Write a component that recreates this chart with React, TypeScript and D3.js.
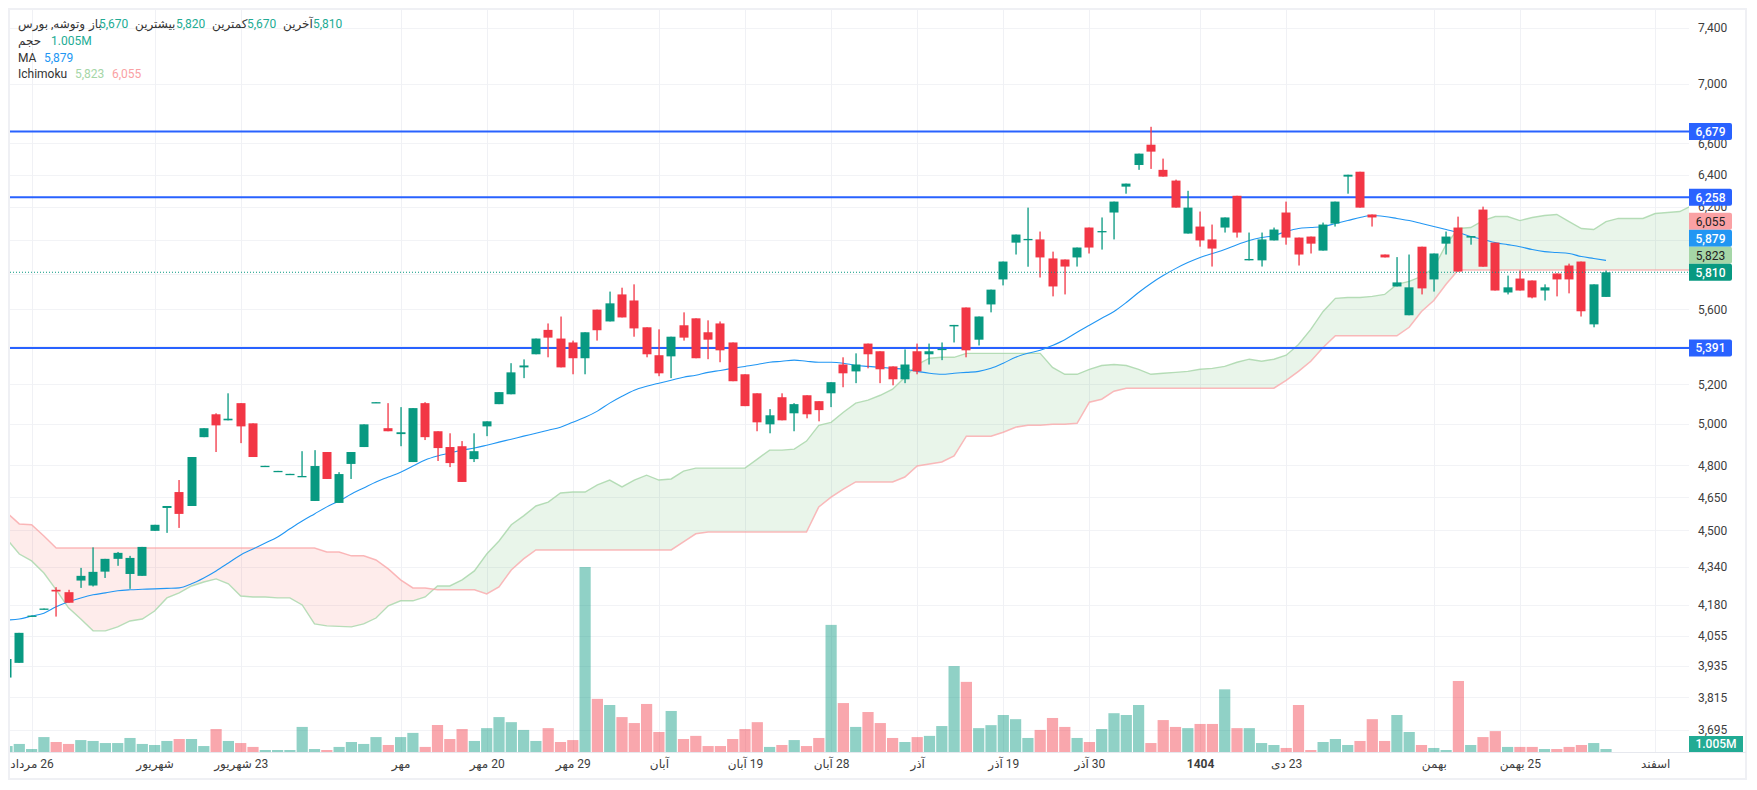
import { useEffect, useRef } from 'react'
import { select, scaleLinear, scaleLog, line, area, axisRight, axisBottom, format, curveMonotoneX } from 'd3'

const opens = [3890,3947,4132,4161,4243,4233,4282,4261,4320,4375,4310,4302,4498,4601,4674,4610,4935,5048,5018,5104,5003,4793,4769,4755,4745,4633,4863,4624,4806,4887,5105,4979,4950,4815,5104,4964,4887,4891,4829,4988,5099,5149,5288,5357,5488,5441,5420,5336,5599,5534,5684,5650,5502,5352,5346,5513,5551,5475,5523,5420,5252,5154,4998,5134,5053,5144,5114,5154,5303,5267,5414,5373,5293,5226,5373,5357,5380,5507,5611,5435,5628,5769,5983,5999,6002,5890,5884,5896,6073,6046,6164,6324,6461,6592,6430,6362,6037,6079,6002,6073,6267,5879,5879,5996,6164,6013,6019,5936,6097,6387,6418,6152,5913,5729,5568,5959,5769,5977,6073,6013,6182,5983,5695,5774,5763,5706,5803,5849,5872,5518,5670]
const highs = [3962,4066,4136,4165,4254,4243,4336,4425,4375,4405,4388,4427,4525,4610,4730,4839,4979,5053,5154,5104,5003,4797,4773,4759,4867,4872,4863,4767,4863,4998,5109,5104,5084,5079,5109,4964,4954,4916,4954,5013,5160,5310,5330,5441,5523,5561,5430,5475,5599,5700,5722,5741,5502,5491,5451,5584,5551,5540,5534,5420,5252,5154,5074,5154,5104,5144,5114,5211,5341,5362,5414,5373,5293,5383,5414,5414,5420,5515,5611,5561,5711,5872,6031,6194,6049,5930,5884,5954,6073,6134,6231,6343,6534,6710,6502,6368,6298,6170,6091,6134,6267,6043,6043,6073,6231,6013,6019,6103,6231,6399,6418,6152,5913,5898,5913,5959,5919,6049,6139,6022,6200,5983,5791,5820,5763,5741,5803,5860,5872,5741,5820]
const lows = [3890,3947,4132,4161,4132,4189,4251,4257,4293,4345,4247,4302,4498,4489,4511,4610,4935,4863,5018,4906,4839,4793,4769,4755,4745,4633,4735,4624,4735,4887,5105,4964,4891,4815,4921,4820,4791,4721,4815,4940,5099,5149,5232,5357,5341,5288,5252,5252,5430,5534,5556,5451,5341,5242,5232,5430,5336,5331,5315,5216,5089,4964,4954,5018,4964,5028,5013,5084,5185,5206,5283,5206,5195,5206,5252,5303,5326,5420,5341,5404,5584,5735,5913,5842,5780,5673,5684,5843,5919,5942,6002,6280,6430,6436,6387,6194,6037,5959,5843,6043,6013,5879,5843,5996,5971,5849,5919,5936,6079,6280,6194,6079,5896,5729,5568,5684,5700,5913,5814,5971,5842,5706,5684,5706,5662,5650,5673,5690,5561,5502,5670]
const closes = [3962,4066,4136,4165,4236,4189,4302,4319,4375,4401,4379,4427,4525,4610,4574,4839,4979,4993,5026,4988,4839,4797,4773,4759,4749,4796,4735,4758,4863,4998,5109,4964,4959,5079,4935,4882,4810,4721,4867,5013,5160,5262,5298,5441,5446,5288,5336,5475,5486,5634,5556,5496,5357,5257,5451,5446,5336,5435,5378,5216,5089,5008,5043,5018,5099,5048,5069,5211,5257,5303,5357,5278,5226,5303,5267,5373,5386,5515,5378,5561,5711,5872,6031,6005,5896,5729,5843,5954,5954,6052,6231,6343,6534,6547,6387,6194,6194,5996,5948,6134,6043,5887,6002,6061,6013,5913,5977,6091,6231,6399,6194,6134,5896,5752,5724,5718,5919,6019,5814,6022,5842,5706,5724,5706,5667,5724,5769,5769,5590,5741,5810]

// volume, millions
const volumes = [2,2.7,1,5,3.35,2.7,4,3.7,3,3,4.7,2.7,2.35,3.7,4.35,4.35,2,7.7,3.7,3,1.7,0.67,0.67,0.67,8.4,1,0.67,1.7,3.35,2.7,5,2.35,5,6.4,1.7,9.05,4.35,7.7,3.7,8,11.7,10,7.4,3.7,8,3.35,4,62,17.8,15.75,11.7,9.7,16.1,6.7,13.75,4.35,5.4,2,2,4.35,7.7,10,1.7,2.35,4,2,4.7,42.6,16.4,8.4,13.4,9.7,4.7,3.35,5,5.4,8.7,28.8,23.5,8,9,12.4,11,4.7,7.4,11.4,8.4,4.7,3.35,7.7,13,12.4,15.75,3,10.7,8.4,8,9.4,9.4,21,8,8,3,2.35,1.35,15.75,0.67,3.35,4.35,2.35,3.7,11,3.7,12.4,6.7,2.35,1.35,0.67,23.8,2.35,5,7,1.7,1.7,1.7,1,1,1.7,2.35,3,1.005]

const maValues = [4118,4122,4134,4146,4172,4193,4209,4222,4230,4239,4243,4245,4247,4249,4251,4268,4293,4323,4357,4392,4418,4444,4471,4507,4542,4574,4606,4633,4665,4693,4721,4744,4767,4796,4825,4844,4858,4872,4882,4896,4911,4925,4940,4954,4969,4984,5008,5033,5064,5104,5139,5170,5190,5206,5221,5237,5247,5262,5272,5283,5293,5303,5315,5320,5326,5320,5315,5315,5310,5298,5293,5288,5283,5278,5267,5257,5252,5257,5262,5267,5283,5310,5341,5362,5378,5404,5435,5475,5513,5551,5589,5639,5695,5746,5791,5831,5866,5896,5919,5942,5971,5996,6013,6025,6049,6067,6073,6079,6097,6115,6134,6146,6140,6128,6115,6097,6079,6061,6043,6019,6002,5983,5971,5959,5942,5930,5925,5919,5901,5890,5879]

const spanA = [4461,4396,4366,4314,4243,4168,4122,4074,4074,4090,4114,4122,4155,4209,4230,4259,4276,4289,4268,4217,4213,4213,4209,4209,4180,4102,4094,4092,4090,4102,4126,4176,4197,4197,4213,4259,4259,4285,4323,4396,4453,4525,4565,4610,4628,4670,4674,4674,4707,4730,4698,4730,4753,4730,4735,4772,4786,4786,4786,4786,4786,4829,4872,4872,4877,4916,4993,5008,5058,5104,5119,5144,5175,5237,5303,5336,5341,5341,5362,5362,5362,5362,5362,5362,5362,5288,5252,5252,5278,5298,5303,5298,5278,5252,5257,5262,5267,5278,5283,5293,5315,5331,5320,5331,5352,5409,5491,5589,5662,5667,5667,5673,5684,5741,5758,5786,5836,5971,6067,6073,6115,6140,6140,6115,6134,6146,6152,6109,6067,6061,6109,6128,6128,6128,6158,6164,6170,6207]
const spanB = [4579,4529,4525,4475,4422,4422,4422,4422,4422,4422,4422,4422,4422,4422,4422,4422,4422,4422,4422,4422,4422,4422,4422,4422,4422,4422,4405,4405,4388,4388,4370,4332,4285,4251,4251,4243,4243,4243,4243,4226,4255,4327,4375,4414,4414,4414,4414,4414,4414,4414,4414,4414,4414,4414,4414,4449,4485,4493,4493,4493,4493,4493,4493,4493,4493,4493,4606,4651,4688,4721,4721,4721,4721,4744,4796,4806,4815,4844,4940,4940,4940,4959,4984,4993,4993,4998,4998,5003,5109,5124,5165,5180,5180,5180,5180,5180,5180,5180,5180,5180,5180,5180,5180,5180,5221,5267,5320,5393,5456,5456,5456,5456,5456,5456,5502,5589,5650,5741,5825,5823,5823,5823,5823,5823,5823,5823,5823,5823,5823,5823,5823,5823,5823,5823,5823,5823,5823,5823]

const priceTicks = [7400,7000,6600,6400,6200,6000,5800,5600,5400,5200,5000,4800,4650,4500,4340,4180,4055,3935,3815,3695]
// the 6,000 / 5,800 / 5,400 labels sit fully behind the price tags
const priceLabels = [7400,7000,6600,6400,6200,5600,5200,5000,4800,4650,4500,4340,4180,4055,3935,3815,3695]
const levels = [6679,6258,5391]
const lastClose = 5810

const xTickBars = [2,12,19,32,39,46,53,60,67,74,81,88,97,104,116,123,134]
const xTickLabels = ['26 مرداد','شهریور','23 شهریور','مهر','20 مهر','29 مهر','آبان','19 آبان','28 آبان','آذر','19 آذر','30 آذر','1404','23 دی','بهمن','25 بهمن','اسفند']

const tagValues = [6679,6258,6055,5879,5823,5810,5391]
const tagFills = ['#2962ff','#2962ff','#faa1a4','#2196f3','#a5d6a7','#089981','#2962ff']
const tagInks = ['#fff','#fff','#222','#fff','#222','#fff','#fff']

const legendTexts = ['وتوشه, بورس','باز','5,670','بیشترین','5,820','کمترین','5,670','آخرین','5,810','حجم','1.005M','MA','5,879','Ichimoku','5,823','6,055']
const legendX = [18,89,99,135,176,212,247,283,313,18,51,18,44,18,75,112]
const legendRow = [0,0,0,0,0,0,0,0,0,1,1,2,2,3,3,3]
const legendInk = ['#333','#333','#22ab94','#333','#22ab94','#333','#22ab94','#333','#22ab94','#333','#22ab94','#333','#2196f3','#333','#a5d6a7','#faa1a4']

const UP = '#089981'
const DOWN = '#f23645'
const FONT = 'Roboto, "DejaVu Sans", sans-serif'
const LEFT = 10
const RIGHT = 1689
const TOP = 10
const BOTTOM = 752

export default function App() {
  const svgRef = useRef<SVGSVGElement | null>(null)

  useEffect(() => {
    const svg = select(svgRef.current)
    svg.selectAll('*').remove()

    const x = scaleLinear().domain([0, 130]).range([7, 1606])
    const y = scaleLog().domain([3695, 7400]).range([729.5, 27.9])
    const vol = scaleLinear().domain([0, 62]).range([BOTTOM, 567])

    const defs = svg.append('defs')
    defs.append('clipPath').attr('id', 'plot').append('rect')
      .attr('x', LEFT).attr('y', TOP).attr('width', RIGHT - LEFT).attr('height', BOTTOM - TOP)
    const aboveLine = area<number>().x((_, i) => x(i)).y0(TOP).y1((d) => y(d))
    defs.append('clipPath').attr('id', 'above-a').append('path').attr('d', aboveLine(spanA))
    defs.append('clipPath').attr('id', 'above-b').append('path').attr('d', aboveLine(spanB))

    svg.append('rect').attr('x', 9).attr('y', 9).attr('width', 1737).attr('height', 770)
      .attr('fill', '#fff').attr('stroke', '#eff0f4').attr('stroke-width', 2)

    // grid
    svg.append('g').selectAll('line').data(priceTicks).join('line')
      .attr('x1', LEFT).attr('x2', RIGHT)
      .attr('y1', (d) => Math.round(y(d)) + 0.5).attr('y2', (d) => Math.round(y(d)) + 0.5)
      .attr('stroke', '#f2f3f6')
    svg.append('g').selectAll('line').data(xTickBars).join('line')
      .attr('x1', (d) => Math.round(x(d)) + 0.5).attr('x2', (d) => Math.round(x(d)) + 0.5)
      .attr('y1', TOP).attr('y2', BOTTOM)
      .attr('stroke', '#f0f1f5')

    const plot = svg.append('g').attr('clip-path', 'url(#plot)')

    // volume
    plot.append('g').selectAll('rect').data(volumes).join('rect')
      .attr('x', (_, i) => x(i) - 5.6).attr('width', 11.2)
      .attr('y', (d) => vol(d)).attr('height', (d) => BOTTOM - vol(d))
      .attr('fill', (_, i) => (closes[i] >= opens[i] ? UP : DOWN))
      .attr('fill-opacity', (_, i) => (closes[i] >= opens[i] ? 0.45 : 0.44))

    // ichimoku cloud
    const cloud = area<number>().x((_, i) => x(i)).y0((d) => y(d)).y1((_, i) => y(spanB[i]))
    plot.append('path').attr('d', cloud(spanA)).attr('fill', '#4caf50').attr('fill-opacity', 0.12).attr('clip-path', 'url(#above-b)')
    plot.append('path').attr('d', cloud(spanA)).attr('fill', '#f44336').attr('fill-opacity', 0.1).attr('clip-path', 'url(#above-a)')
    const spanLine = line<number>().x((_, i) => x(i)).y((d) => y(d))
    plot.append('path').attr('d', spanLine(spanA)).attr('fill', 'none').attr('stroke', '#a5d6a7').attr('stroke-width', 1.4).attr('stroke-opacity', 0.8)
    plot.append('path').attr('d', spanLine(spanB)).attr('fill', 'none').attr('stroke', '#faa1a4').attr('stroke-width', 1.5).attr('stroke-opacity', 0.75)

    // horizontal levels
    plot.append('g').selectAll('line').data(levels).join('line')
      .attr('x1', LEFT).attr('x2', RIGHT).attr('y1', (d) => y(d)).attr('y2', (d) => y(d))
      .attr('stroke', '#2962ff').attr('stroke-width', 2)

    // moving average
    const maLine = line<number>().x((_, i) => x(i)).y((d) => y(d)).curve(curveMonotoneX)
    plot.append('path').attr('d', maLine(maValues)).attr('fill', 'none').attr('stroke', '#2196f3').attr('stroke-width', 1.1)

    // candles
    const candles = plot.append('g').selectAll('g').data(opens).join('g')
    candles.append('rect')
      .attr('x', (_, i) => Math.round(x(i)) - 0.6).attr('width', 1.3)
      .attr('y', (_, i) => y(highs[i])).attr('height', (_, i) => y(lows[i]) - y(highs[i]))
      .attr('fill', (_, i) => (closes[i] >= opens[i] ? UP : DOWN))
    candles.append('rect')
      .attr('x', (_, i) => Math.round(x(i)) - 4.5).attr('width', 9)
      .attr('y', (d, i) => y(Math.max(d, closes[i])))
      .attr('height', (d, i) => Math.max(1.3, Math.abs(y(d) - y(closes[i]))))
      .attr('fill', (_, i) => (closes[i] >= opens[i] ? UP : DOWN))

    // last close line
    plot.append('line').attr('x1', LEFT).attr('x2', RIGHT).attr('y1', y(lastClose)).attr('y2', y(lastClose))
      .attr('stroke', UP).attr('stroke-width', 1).attr('stroke-dasharray', '1 2')

    // axes
    svg.append('rect').attr('x', LEFT).attr('y', BOTTOM).attr('width', RIGHT - LEFT + 57).attr('height', 1).attr('fill', '#e6e8ee')
    const yAxis = axisRight(y).tickValues(priceLabels).tickFormat(format(',') as any).tickSize(0).tickPadding(9)
    const yG = svg.append('g').attr('transform', `translate(${RIGHT},0)`).call(yAxis as any)
    yG.select('.domain').remove()
    yG.selectAll('text').attr('font-family', FONT).attr('font-size', 12).attr('fill', '#3d3d3d')

    const xAxis = axisBottom(x).tickValues(xTickBars).tickFormat((_, i) => xTickLabels[i]).tickSize(0).tickPadding(7)
    const xG = svg.append('g').attr('transform', `translate(0,${BOTTOM})`).call(xAxis as any)
    xG.select('.domain').remove()
    xG.selectAll('text').attr('font-family', FONT).attr('font-size', 12).attr('fill', '#3d3d3d')
      .attr('font-weight', (_, i) => (xTickLabels[i] === '1404' ? 700 : 400))
      .style('direction', 'rtl')

    // price tags, stacked upwards when they collide
    const tagH = 17
    const centres = tagValues.map((d) => y(d))
    for (let i = tagValues.length - 2; i >= 0; i--) {
      if (tagValues[i + 1] !== 5391) centres[i] = Math.min(centres[i], centres[i + 1] - tagH)
    }
    const tags = svg.append('g').selectAll('g').data(tagValues).join('g')
      .attr('transform', (_, i) => `translate(${RIGHT},${centres[i]})`)
    tags.append('path')
      .attr('d', `M0,${-tagH / 2}H41a2,2 0 0 1 2,2V${tagH / 2 - 2}a2,2 0 0 1 -2,2H0Z`)
      .attr('fill', (_, i) => tagFills[i])
    tags.append('text').attr('x', 21.5).attr('dy', '0.36em').attr('text-anchor', 'middle')
      .attr('font-family', FONT).attr('font-size', 12)
      .attr('font-weight', (_, i) => (tagInks[i] === '#fff' ? 500 : 400))
      .attr('fill', (_, i) => tagInks[i]).text((d) => format(',')(d))

    // volume tag
    const volTag = svg.append('g').attr('transform', `translate(${RIGHT},736)`)
    volTag.append('rect').attr('width', 54).attr('height', 16).attr('fill', '#22ab94')
    volTag.append('text').attr('x', 27).attr('y', 12.3).attr('text-anchor', 'middle')
      .attr('font-family', FONT).attr('font-size', 12).attr('font-weight', 500).attr('fill', '#fff').text('1.005M')

    // legend
    svg.append('g').selectAll('text').data(legendTexts).join('text')
      .attr('x', (_, i) => legendX[i]).attr('y', (_, i) => 28 + legendRow[i] * 16.8)
      .attr('font-family', FONT).attr('font-size', 12)
      .attr('fill', (_, i) => legendInk[i]).text((d) => d)
  }, [])

  return (
    <svg ref={svgRef} width={1757} height={790} style={{ position: 'absolute', left: 0, top: 0, background: '#fff' }} />
  )
}
